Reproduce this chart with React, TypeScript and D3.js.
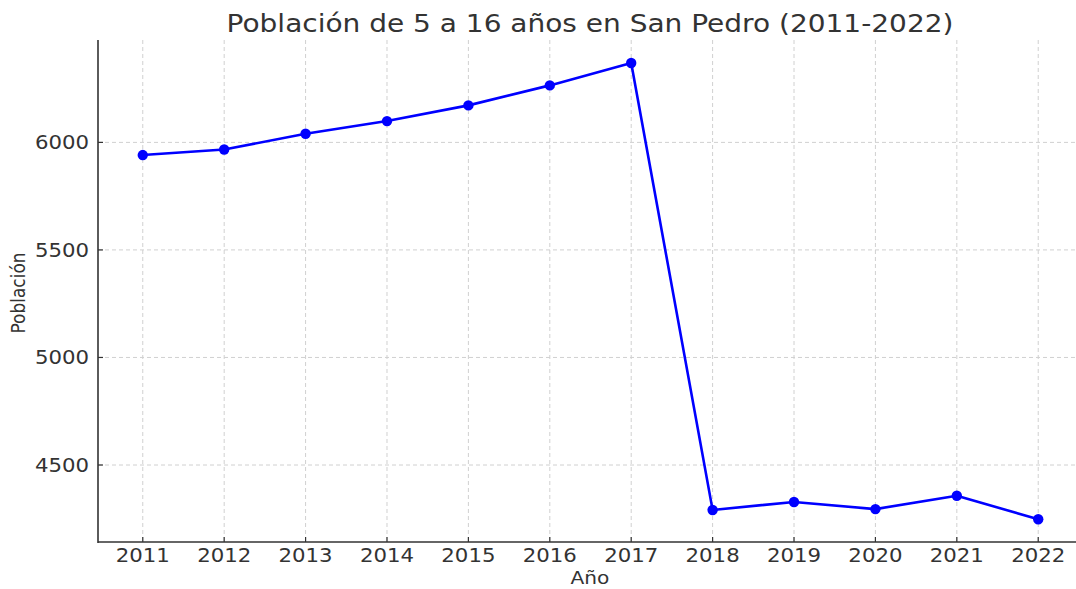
import React from "react";
import * as d3 from "d3";

const years = [2011, 2012, 2013, 2014, 2015, 2016, 2017, 2018, 2019, 2020, 2021, 2022];
const population = [5941, 5967, 6040, 6099, 6172, 6265, 6369, 4291, 4328, 4295, 4357, 4248];
const yTicks = [4500, 5000, 5500, 6000];
const title = "Población de 5 a 16 años en San Pedro (2011-2022)";
const xLabel = "Año";
const yLabel = "Población";

const W = 1076;
const H = 589;
const left = 98;
const right = 1083;
const top = 40;
const bottom = 542;
const textColor = "#333333";
const font = "DejaVu Sans, sans-serif";
const SX = 1.12;

function T(props: {
  x: number;
  y: number;
  size: number;
  anchor?: string;
  dy?: string;
  children: React.ReactNode;
}) {
  return (
    <text
      transform={`translate(${props.x},${props.y}) scale(${SX},1)`}
      textAnchor={props.anchor || "middle"}
      fontSize={props.size}
      dy={props.dy}
      fill={textColor}
    >
      {props.children}
    </text>
  );
}

export default function App() {
  const x = d3.scaleLinear().domain([2010.45, 2022.55]).range([left, right]);
  const y = d3.scaleLinear().domain([4142, 6476]).range([bottom, top]);
  const line = d3
    .line<number>()
    .x((_, i) => x(years[i]))
    .y((d) => y(d));

  return (
    <svg
      width={W}
      height={H}
      style={{ position: "absolute", left: 0, top: 0, background: "#fff" }}
      fontFamily={font}
    >
      <rect width={W} height={H} fill="#fff" />
      {years.map((yr) => (
        <line
          key={"gx" + yr}
          x1={x(yr)}
          x2={x(yr)}
          y1={top}
          y2={bottom}
          stroke="#d0d0d0"
          strokeWidth={1}
          strokeDasharray="4,3"
        />
      ))}
      {yTicks.map((t) => (
        <line
          key={"gy" + t}
          x1={left}
          x2={right}
          y1={y(t)}
          y2={y(t)}
          stroke="#d0d0d0"
          strokeWidth={1}
          strokeDasharray="4,3"
        />
      ))}
      <line x1={left} x2={left} y1={top} y2={bottom + 1} stroke={textColor} strokeWidth={1.6} />
      <line x1={left} x2={right} y1={bottom} y2={bottom} stroke={textColor} strokeWidth={1.6} />
      {years.map((yr) => (
        <g key={"tx" + yr}>
          <line x1={x(yr)} x2={x(yr)} y1={bottom} y2={bottom - 5} stroke={textColor} strokeWidth={1.2} />
          <T x={x(yr)} y={562} size={19}>
            {yr}
          </T>
        </g>
      ))}
      {yTicks.map((t) => (
        <g key={"ty" + t}>
          <line x1={left} x2={left + 5} y1={y(t)} y2={y(t)} stroke={textColor} strokeWidth={1.2} />
          <T x={89} y={y(t)} size={19} anchor="end" dy="0.36em">
            {t}
          </T>
        </g>
      ))}
      <path d={line(population) || ""} fill="none" stroke="#0000ff" strokeWidth={2.6} strokeLinejoin="round" />
      {population.map((v, i) => (
        <circle key={"p" + i} cx={x(years[i])} cy={y(v)} r={5.2} fill="#0000ff" />
      ))}
      <T x={590} y={32} size={25}>
        {title}
      </T>
      <T x={590} y={584} size={18}>
        {xLabel}
      </T>
      <text
        transform={`translate(25,293) rotate(-90) scale(1,${SX})`}
        textAnchor="middle"
        fontSize={17}
        fill={textColor}
      >
        {yLabel}
      </text>
    </svg>
  );
}
